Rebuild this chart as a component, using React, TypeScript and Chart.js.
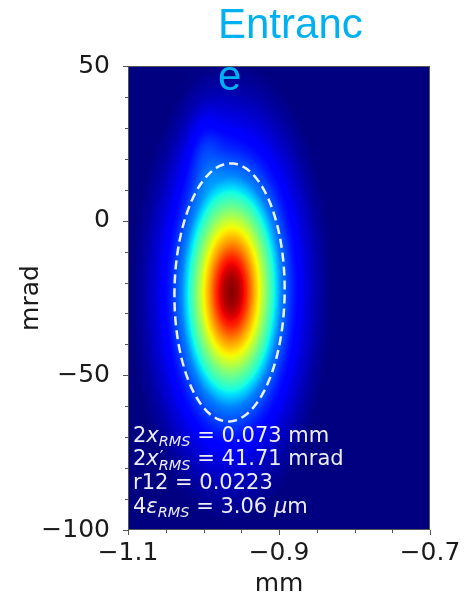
import React, { useEffect, useRef } from 'react';
import { Chart, registerables } from 'chart.js';

Chart.register(...registerables);

// ---------- data ----------
const TITLE = 'Entrance';
const X_LABEL = 'mm';
const Y_LABEL = 'mrad';

const X_RANGE = [-1.1, -0.7];
const Y_RANGE = [-100, 50];
const X_TICKS = [-1.1, -0.9, -0.7];
const Y_TICKS = [-100, -50, 0, 50];
const X_MINOR_STEP = 0.05;
const Y_MINOR_STEP = 10;

// beam statistics (as printed on the plot)
const TWO_X_RMS = 0.073; // mm
const TWO_XP_RMS = 41.71; // mrad
const R12 = 0.0223;
const FOUR_EMIT_RMS = 3.06; // um
const ELLIPSE_CENTER = [-0.9655, -23.2]; // mm, mrad

// density distribution
const DENSITY_CENTER = [-0.963, -23]; // mm, mrad
const DENSITY_WIDTH = [0.039, 22]; // mm, mrad
const PROFILE_RADIUS = [0, 0.25, 0.5, 0.73, 0.98, 1.2, 1.45, 1.7, 2.1, 2.5, 3.0, 3.4];
const PROFILE_LEVEL = [1, 0.96, 0.875, 0.75, 0.625, 0.5, 0.375, 0.25, 0.15, 0.085, 0.03, 0];
// faint plume above the ellipse
const TAIL_CENTER = [-0.998, 22]; // mm, mrad
const TAIL_WIDTH = [0.016, 10]; // mm, mrad
const TAIL_LEVEL = 0.07;

// jet colormap break points
const JET_R = [[0, 0], [0.35, 0], [0.66, 1], [0.89, 1], [1, 0.5]];
const JET_G = [[0, 0], [0.125, 0], [0.375, 1], [0.64, 1], [0.91, 0], [1, 0]];
const JET_B = [[0, 0.5], [0.11, 1], [0.34, 1], [0.65, 0], [1, 0]];

// ---------- helpers ----------
function interp(xs: number[], ys: number[], v: number) {
  if (v <= xs[0]) return ys[0];
  for (let i = 1; i < xs.length; i++) {
    if (v <= xs[i]) {
      const t = (v - xs[i - 1]) / (xs[i] - xs[i - 1]);
      return ys[i - 1] + t * (ys[i] - ys[i - 1]);
    }
  }
  return ys[ys.length - 1];
}
function chan(pts: number[][], v: number) {
  return interp(pts.map((p) => p[0]), pts.map((p) => p[1]), v);
}
function jet(v: number): [number, number, number] {
  return [chan(JET_R, v) * 255, chan(JET_G, v) * 255, chan(JET_B, v) * 255];
}
const near = (a: number, b: number) => Math.abs(a - b) < 1e-6;
const fmt = (v: number, d: number) => v.toFixed(d).replace('-', '\u2212');

const FONT = '"DejaVu Sans", sans-serif';
const TEXT_COLOR = '#1a1a1a';
const AXIS_COLOR = '#555555';

type Seg = { t: string; it?: boolean; sub?: boolean; sup?: boolean };
const ANNOTATION: Seg[][] = [
  [{ t: '2' }, { t: 'x', it: true }, { t: 'RMS', it: true, sub: true }, { t: ` = ${TWO_X_RMS.toFixed(3)} mm` }],
  [{ t: '2' }, { t: 'x', it: true }, { t: '\u2032', sup: true }, { t: 'RMS', it: true, sub: true }, { t: ` = ${TWO_XP_RMS.toFixed(2)} mrad` }],
  [{ t: `r12 = ${R12.toFixed(4)}` }],
  [{ t: '4' }, { t: '\u03b5', it: true }, { t: 'RMS', it: true, sub: true }, { t: ` = ${FOUR_EMIT_RMS.toFixed(2)} ` }, { t: '\u03bc', it: true }, { t: 'm' }],
];

const beamPlugin = {
  id: 'beamPlot',
  beforeDatasetsDraw(chart: any) {
    const { ctx, chartArea: a, scales } = chart;
    const xs = scales.x;
    const ys = scales.y;
    const w = Math.round(a.right - a.left);
    const h = Math.round(a.bottom - a.top);
    const off = document.createElement('canvas');
    off.width = w;
    off.height = h;
    const octx = off.getContext('2d')!;
    const img = octx.createImageData(w, h);
    const r = R12;
    const k = 1 / (1 - r * r);
    for (let j = 0; j < h; j++) {
      const yv = ys.getValueForPixel(a.top + j + 0.5);
      const dy = (yv - DENSITY_CENTER[1]) / DENSITY_WIDTH[1];
      const ty = (yv - TAIL_CENTER[1]) / TAIL_WIDTH[1];
      for (let i = 0; i < w; i++) {
        const xv = xs.getValueForPixel(a.left + i + 0.5);
        const dx = (xv - DENSITY_CENTER[0]) / DENSITY_WIDTH[0];
        const rho = Math.sqrt(Math.max(0, (dx * dx - 2 * r * dx * dy + dy * dy) * k));
        const tx = (xv - TAIL_CENTER[0]) / TAIL_WIDTH[0];
        const trho = Math.sqrt(tx * tx + ty * ty);
        let lv = interp(PROFILE_RADIUS, PROFILE_LEVEL, rho) + TAIL_LEVEL * interp(PROFILE_RADIUS, PROFILE_LEVEL, trho);
        if (lv > 1) lv = 1;
        const c = jet(lv);
        const p = (j * w + i) * 4;
        img.data[p] = c[0];
        img.data[p + 1] = c[1];
        img.data[p + 2] = c[2];
        img.data[p + 3] = 255;
      }
    }
    octx.putImageData(img, 0, 0);
    ctx.save();
    ctx.drawImage(off, a.left, a.top, w, h);

    // RMS ellipse (2 sigma)
    ctx.beginPath();
    const n = 160;
    for (let s = 0; s <= n; s++) {
      const t = (s / n) * Math.PI * 2;
      const xv = ELLIPSE_CENTER[0] + TWO_X_RMS * Math.cos(t);
      const yv = ELLIPSE_CENTER[1] + TWO_XP_RMS * (r * Math.cos(t) + Math.sqrt(1 - r * r) * Math.sin(t));
      const px = xs.getPixelForValue(xv);
      const py = ys.getPixelForValue(yv);
      if (s === 0) ctx.moveTo(px, py);
      else ctx.lineTo(px, py);
    }
    ctx.closePath();
    ctx.setLineDash([9, 5]);
    ctx.lineWidth = 2.5;
    ctx.strokeStyle = 'rgba(255,255,255,0.92)';
    ctx.stroke();
    ctx.restore();
  },
  afterDraw(chart: any) {
    const { ctx, chartArea: a, scales } = chart;
    const xs = scales.x;
    const ys = scales.y;
    ctx.save();
    // annotation text
    const size = 21;
    const subSize = 14.5;
    ctx.fillStyle = 'rgba(255,255,255,0.93)';
    ctx.textBaseline = 'alphabetic';
    ctx.textAlign = 'left';
    ANNOTATION.forEach((line, li) => {
      let cx = a.left + 5;
      const by = a.bottom - 17.3 - (ANNOTATION.length - 1 - li) * 23.7;
      let hold = 0;
      line.forEach((sg) => {
        if (sg.sup) {
          ctx.font = `${subSize + 2}px ${FONT}`;
          ctx.fillText(sg.t, cx + 1, by - 3);
          hold = ctx.measureText(sg.t).width + 1;
          return;
        }
        if (sg.sub) {
          ctx.font = `italic ${subSize}px ${FONT}`;
          ctx.fillText(sg.t, cx, by + 4.5);
          cx += Math.max(ctx.measureText(sg.t).width, hold);
          hold = 0;
          return;
        }
        ctx.font = `${sg.it ? 'italic ' : ''}${size}px ${FONT}`;
        ctx.fillText(sg.t, cx, by);
        cx += ctx.measureText(sg.t).width;
      });
    });

    // spines
    ctx.strokeStyle = AXIS_COLOR;
    ctx.lineWidth = 1;
    ctx.strokeRect(a.left + 0.5, a.top + 0.5, a.right - a.left - 1, a.bottom - a.top - 1);

    // ticks (outside)
    ctx.beginPath();
    xs.ticks.forEach((tk: any) => {
      const px = Math.round(xs.getPixelForValue(tk.value)) + 0.5;
      const len = X_TICKS.some((v) => near(v, tk.value)) ? 5 : 3;
      ctx.moveTo(px, a.bottom);
      ctx.lineTo(px, a.bottom + len);
    });
    ys.ticks.forEach((tk: any) => {
      const py = Math.round(ys.getPixelForValue(tk.value)) + 0.5;
      const len = Y_TICKS.some((v) => near(v, tk.value)) ? 5 : 3;
      ctx.moveTo(a.left, py);
      ctx.lineTo(a.left - len, py);
    });
    ctx.stroke();
    ctx.restore();
  },
};

export default function App() {
  const ref = useRef<HTMLCanvasElement>(null);

  useEffect(() => {
    if (!ref.current) return;
    const tickFont = { family: FONT, size: 25 };
    const chart = new Chart(ref.current, {
      type: 'scatter',
      data: { datasets: [] },
      plugins: [beamPlugin],
      options: {
        animation: false,
        responsive: true,
        maintainAspectRatio: false,
        layout: { padding: { left: 0, top: 66, right: 34, bottom: 0 } },
        plugins: { legend: { display: false }, tooltip: { enabled: false }, title: { display: false } },
        scales: {
          x: {
            type: 'linear',
            min: X_RANGE[0],
            max: X_RANGE[1],
            afterFit: (s: any) => {
              s.height = 65;
            },
            grid: { display: false },
            border: { display: false },
            ticks: {
              stepSize: X_MINOR_STEP,
              autoSkip: false,
              maxRotation: 0,
              padding: 0,
              color: TEXT_COLOR,
              font: tickFont,
              callback: (v: any) => (X_TICKS.some((t) => near(t, Number(v))) ? fmt(Number(v), 1) : ''),
            },
            title: {
              display: true,
              text: X_LABEL,
              color: TEXT_COLOR,
              font: { family: FONT, size: 25, lineHeight: 1 },
              padding: { top: 0, bottom: -1.5 },
            },
          },
          y: {
            type: 'linear',
            min: Y_RANGE[0],
            max: Y_RANGE[1],
            afterFit: (s: any) => {
              s.width = 128;
            },
            grid: { display: false },
            border: { display: false },
            ticks: {
              stepSize: Y_MINOR_STEP,
              autoSkip: false,
              padding: 10,
              color: TEXT_COLOR,
              font: tickFont,
              callback: (v: any) => (Y_TICKS.some((t) => near(t, Number(v))) ? fmt(Number(v), 0) : ''),
            },
            title: {
              display: true,
              text: Y_LABEL,
              color: TEXT_COLOR,
              font: { family: FONT, size: 25, lineHeight: 1 },
              padding: { top: 18.5, bottom: 0 },
            },
          },
        },
      },
    } as any);
    return () => chart.destroy();
  }, []);

  return (
    <div style={{ position: 'fixed', left: 0, top: 0, width: 464, height: 595, background: '#fff' }}>
      <canvas ref={ref} />
      <div
        style={{
          position: 'absolute',
          left: 218,
          top: -2,
          width: 160,
          fontFamily: '"Liberation Sans", Arial, sans-serif',
          fontSize: 42,
          lineHeight: '52px',
          color: '#00B0F0',
          wordBreak: 'break-all',
          pointerEvents: 'none',
        }}
      >
        {TITLE}
      </div>
    </div>
  );
}
